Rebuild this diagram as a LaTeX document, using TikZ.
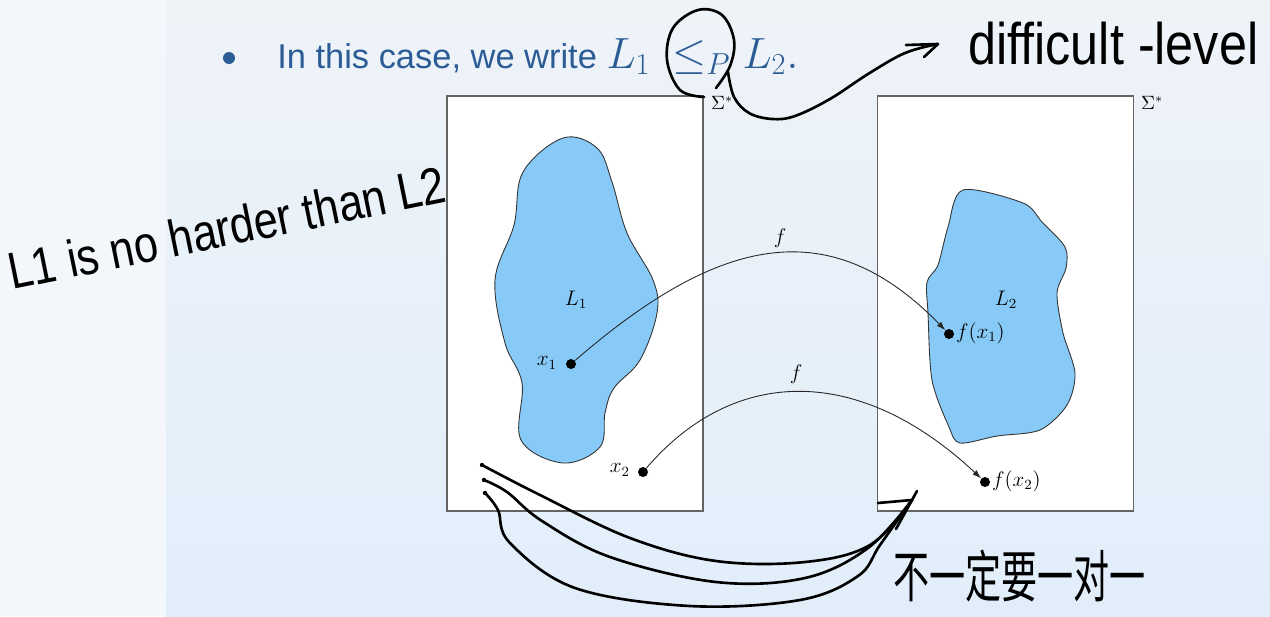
\documentclass[tikz,border=0pt]{standalone}
\usepackage{fontspec}
\newfontfamily\slidefont{Liberation Sans}
\newfontfamily\handfont{Liberation Sans}
\newfontfamily\cjkfont{Noto Sans CJK SC}
\usetikzlibrary{arrows.meta}
\definecolor{bgtop}{RGB}{238,243,248}
\definecolor{bgbot}{RGB}{225,238,250}
\definecolor{stripc}{RGB}{243,247,251}
\definecolor{slideblue}{RGB}{44,92,150}
\definecolor{blobblue}{RGB}{135,202,248}
\definecolor{boxgray}{RGB}{100,100,100}
\begin{document}
\begin{tikzpicture}[x=0.02cm,y=-0.02cm,
  setbox/.style={draw=boxgray, fill=white, line width=0.8pt, minimum width=5.12cm, minimum height=8.3cm, inner sep=0},
  blob/.style={fill=blobblue, draw=black!80, line width=0.5pt},
  dot/.style={circle, fill=black, inner sep=0, minimum size=0.2cm},
  lab/.style={inner sep=1pt, font=\fontsize{12}{14}\selectfont},
  siglab/.style={inner sep=1pt, anchor=west, font=\fontsize{10.5}{12}\selectfont},
  farrow/.style={draw=black!85, line width=0.5pt, -{Latex[length=5pt,width=3.4pt]}},
  hand/.style={draw=black, line width=1.5pt, line cap=round, line join=round},
  bulletdot/.style={circle, fill=slideblue, inner sep=0, minimum size=0.24cm}]
\useasboundingbox (0,0) rectangle (1270,616);
% background
\fill[stripc] (0,0) rectangle (166,616);
\shade[top color=bgtop, bottom color=bgbot] (166,0) rectangle (1270,616);
% heading
\node[bulletdot] (bul) at (229,58) {};
\node[anchor=base west, inner sep=0, text=slideblue, font=\slidefont\fontsize{19.6}{23}\selectfont] (head) at (277,68)
  {In this case, we write {\fontsize{24}{28}\selectfont$L_1\mskip 4mu\le_P L_2.$}};
% boxes
\node[setbox] (S1) at (575,303.5) {};
\node[setbox] (S2) at (1005.5,303.5) {};
\node[siglab] (sig1) at (709,103) {$\Sigma^*$};
\node[siglab] (sig2) at (1139,103) {$\Sigma^*$};
% blobs
\filldraw[blob] plot[smooth cycle, tension=0.6] coordinates {
 (563,138) (523,172) (514,225) (495,280) (505,343) (522,383) (521,440) (563,463)
 (600,447) (605,413) (614,388) (640,360) (657,313) (653,280) (627,233) (612,182) (597,148)};
\filldraw[blob] plot[smooth cycle, tension=0.5] coordinates {
 (963,190) (1023,203) (1042,222) (1065,247) (1066,268) (1057,293) (1063,333) (1075,373)
 (1067,405) (1040,430) (997,436) (960,443) (949,427) (932,380) (928,313) (927,282) (938,265) (948,227)};
\node[lab] (L1) at (576,300) {$L_1$};
\node[lab] (L2) at (1006,300) {$L_2$};
% points
\node[dot] (x1) at (571,364) {};
\node[dot] (x2) at (643,472) {};
\node[dot] (fx1) at (949,334) {};
\node[dot] (fx2) at (985,482) {};
\node[lab] (x1l) at (547,363) {$x_1$};
\node[lab] (x2l) at (620,470) {$x_2$};
\node[lab, anchor=west] (fx1l) at (954,333) {$f(x_1)$};
\node[lab, anchor=west] (fx2l) at (990,481) {$f(x_2)$};
% mappings
\draw[farrow] (x1) .. controls (720,235) and (830,212) .. (fx1);
\draw[farrow] (x2) .. controls (735,365) and (860,365) .. (fx2);
\node[lab] (f1) at (780,238) {$f$};
\node[lab] (f2) at (796,374) {$f$};
% handwritten: circle and arrow to difficult-level
\draw[hand] plot[smooth, tension=0.6] coordinates {
 (704,97) (680,90) (667,60) (673,28) (698,10) (722,15) (734,40) (730,66) (716,88)};
\coordinate (dtip) at (938,44);
\draw[hand] plot[smooth, tension=0.6] coordinates {
 (728,72) (734,97) (749,113) (772,119) (795,116) (830,99) (868,74) (905,53) (dtip)};
\draw[hand] (906,45) -- (dtip) -- (924,57);
\node[anchor=base west, inner sep=0] (diff) at (968,64)
  {\resizebox{5.8cm}{0.85cm}{\handfont difficult -level}};
% handwritten: L1 is no harder than L2
\node[anchor=base west, rotate=11.5, inner sep=0] (hard) at (12,290)
  {\resizebox{8.9cm}{0.75cm}{\handfont L1 is no harder than L2}};
% handwritten: bottom arrows
\coordinate (s1) at (482,465);
\coordinate (s2) at (484,480);
\coordinate (s3) at (485,493);
\coordinate (e) at (912,500);
\fill (s1) circle (2.2);
\fill (s2) circle (2.2);
\fill (s3) circle (2.2);
\draw[hand] plot[smooth, tension=0.6] coordinates {
 (s1) (540,495) (630,538) (716,561) (805,562) (870,545) (e)};
\draw[hand] plot[smooth, tension=0.6] coordinates {
 (s2) (507,492) (542,521) (610,557) (716,582) (805,578) (868,548) (e)};
\draw[hand] plot[smooth, tension=0.6] coordinates {
 (s3) (498,510) (510,543) (575,588) (690,606) (800,600) (858,576) (880,545) (e)};
\draw[hand] (878,503) -- (e) -- (917,491);
\draw[hand] (e) -- (896,529);
\node[anchor=base west, inner sep=0] (cn) at (893,597)
  {\resizebox{5.05cm}{0.95cm}{\cjkfont 不一定要一对一}};
\end{tikzpicture}
\end{document}
